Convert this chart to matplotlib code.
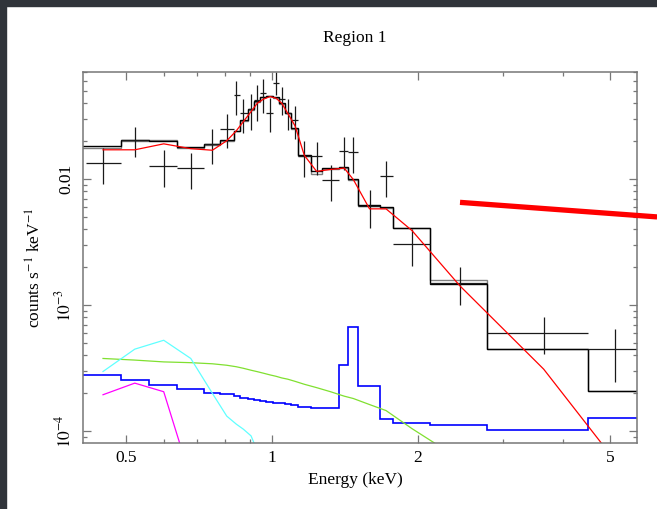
import numpy as np
import matplotlib
matplotlib.use("Agg")
import matplotlib.pyplot as plt
from matplotlib.patches import Rectangle
from matplotlib.ticker import LogLocator, NullFormatter

plt.rcParams['font.family'] = ['Liberation Serif', 'DejaVu Serif']
plt.rcParams['mathtext.fontset'] = 'stix'

# energy bins (keV) of the spectrum
bin_lo = [0.414, 0.488, 0.558, 0.6385, 0.725, 0.781, 0.835, 0.860, 0.892, 0.919,
          0.946, 0.973, 1.008, 1.035, 1.065, 1.096, 1.135, 1.203, 1.268, 1.379,
          1.439, 1.509, 1.673, 1.776, 2.122, 2.778, 4.503]
bin_hi = bin_lo[1:] + [6.0]
energy = [0.4485, 0.5215, 0.5985, 0.6806, 0.7542, 0.8075, 0.845, 0.8738, 0.9064, 0.9339,
          0.9609, 0.992, 1.0207, 1.0487, 1.079, 1.117, 1.1676, 1.2376, 1.3224, 1.4112,
          1.4738, 1.5917, 1.7218, 1.948, 2.4468, 3.642, 5.105]

# data (counts s^-1 keV^-1) and 1-sigma errors
rate = [0.01338, 0.02033, 0.01274, 0.01222, 0.01901, 0.02512, 0.04613, 0.03324, 0.03575, 0.04235,
        0.0481, 0.03361, 0.058, 0.04289, 0.03361, 0.02943, 0.01528, 0.01528, 0.00975, 0.01674,
        0.01629, 0.00612, 0.01048, 0.00305, 0.001506, 0.000606, 0.000447]
rate_err = [0.00433, 0.00548, 0.00415, 0.00386, 0.00574, 0.00737, 0.01397, 0.00989, 0.0113, 0.01357,
            0.0145, 0.01017, 0.012, 0.01086, 0.00933, 0.00853, 0.00489, 0.00444, 0.00305, 0.00494,
            0.00508, 0.0020, 0.00334, 0.0010, 0.000494, 0.000198, 0.000203]

# folded model, two data groups
model_a = [0.0181, 0.0203, 0.0201, 0.0179, 0.0190, 0.0205, 0.0241, 0.0294, 0.0358, 0.0416,
           0.0450, 0.0456, 0.0445, 0.0399, 0.0336, 0.0253, 0.0156, 0.0116, 0.0122, 0.0124,
           0.0100, 0.0062, 0.0060, 0.0041, 0.00148, 0.000447, 0.000209]
model_b = [0.0177, 0.0200, 0.0203, 0.0176, 0.0187, 0.0201, 0.0238, 0.0290, 0.0352, 0.0410,
           0.0446, 0.0452, 0.0441, 0.0395, 0.0331, 0.0249, 0.0153, 0.0110, 0.0120, 0.0122,
           0.0098, 0.0061, 0.0059, 0.0041, 0.00157, 0.000447, 0.000209]
model_total = [0.01704, 0.01704, 0.0190, 0.0174, 0.0169, 0.0201, 0.0241, 0.0285, 0.0342, 0.0399,
               0.0429, 0.0450, 0.0437, 0.0399, 0.0332, 0.0264, 0.0154, 0.0115, 0.0119, 0.0122,
               0.0099, 0.0058, 0.0058, 0.0039, 0.00142, 0.000311, 0.000059]

# model components
comp_blue = [0.000279, 0.000254, 0.000234, 0.000216, 0.000203, 0.000196, 0.000189, 0.000184, 0.00018, 0.000177,
             0.000174, 0.00017, 0.000168, 0.000167, 0.000165, 0.000161, 0.000155, 0.000152, 0.000152, 0.000334,
             0.000676, 0.000227, 0.000125, 0.000117, 0.000112, 0.000102, 0.000128]
comp_green = [0.000378, 0.000367, 0.000355, 0.00035, 0.000343, 0.000334, 0.000325, 0.000316, 0.000305, 0.000297,
              0.000289, 0.00028, 0.000273, 0.000265, 0.000259, 0.000249, 0.000236, 0.000222, 0.000206, 0.00019,
              0.000182, 0.000163, 0.000146, 0.000105, 0.00006]
comp_cyan = [0.000298, 0.000448, 0.000527, 0.000378, 0.0002, 0.000132, 0.000114, 0.000104, 0.000092, 0.00007]
comp_magenta = [0.000195, 0.000241, 0.000206, 0.000042]

# hand-drawn red mark (start/end in keV, rate)
mark_e = [2.447, 6.243]
mark_r = [0.00653, 0.005006]

W, H = 657, 509
fig = plt.figure(figsize=(W / 100, H / 100), dpi=100)
ax = fig.add_axes([83 / W, 1 - 443 / H, 554 / W, 371 / H])

x = np.array(energy)
lo = np.array(bin_lo)
hi = np.array(bin_hi)
edges = [0.40] + bin_hi

ax.stairs(model_b, edges, color='#808080', lw=1.0)
ax.stairs(model_a, edges, color='black', lw=1.0)
ax.errorbar(x, rate, xerr=[x - lo, hi - x], yerr=rate_err, fmt='none',
            ecolor='#1a1a1a', elinewidth=0.9, capsize=0)
ax.plot(x, model_total, color='#ff0000', lw=0.9)

ax.stairs(comp_blue, edges, color='#0000ff', lw=1.2)
ax.plot(x[:len(comp_green)], comp_green, color='#80e030', lw=0.9)
ax.plot(x[:len(comp_cyan)], comp_cyan, color='#60ffff', lw=0.9)
ax.plot(x[:len(comp_magenta)], comp_magenta, color='#ff00ff', lw=0.9)

ax.plot(mark_e, mark_r, color='#ff0000', lw=3.8, solid_capstyle='butt', clip_on=False, zorder=5)

ax.set_xscale('log')
ax.set_yscale('log')
ax.set_xlim(0.4078, 5.675)
ax.set_ylim(8.08e-5, 0.0705)

ax.set_xticks([0.5, 1, 2, 5], ['0.5', '1', '2', '5'])
ax.set_xticks([0.6, 0.7, 0.8, 0.9, 3, 4], minor=True)
ax.xaxis.set_minor_formatter(NullFormatter())
ax.set_yticks([1e-4, 1e-3, 1e-2], ['$10^{-4}$', '$10^{-3}$', '0.01'])
ax.yaxis.set_minor_locator(LogLocator(base=10, subs=np.arange(2, 10)))
ax.yaxis.set_minor_formatter(NullFormatter())

ax.tick_params(which='both', direction='in', top=True, right=True, color='#777777',
               labelsize=12.5)
ax.tick_params(which='major', length=5.5, width=0.9)
ax.tick_params(which='minor', length=3, width=0.9)
ax.tick_params(axis='x', pad=5)
ax.tick_params(axis='y', pad=6)
for lab in ax.get_yticklabels():
    lab.set_rotation(90)
    lab.set_va('center')
for s in ax.spines.values():
    s.set_color('#777777')
    s.set_linewidth(1.1)

fig.text(355 / W, 1 - 38 / H, 'Region 1', ha='center', va='center', fontsize=12.5)
fig.text(355 / W, 1 - 480 / H, 'Energy (keV)', ha='center', va='center', fontsize=12.5)
fig.text(35 / W, 1 - 268 / H, 'counts s$^{-1}$ keV$^{-1}$', ha='center', va='center',
         rotation=90, fontsize=12.5)

# dark screenshot frame on the top and left edges
fig.patches.append(Rectangle((0, 0), 6 / W, 1, transform=fig.transFigure,
                             color='#30343a', zorder=10))
fig.patches.append(Rectangle((0, 1 - 6 / H), 1, 6 / H, transform=fig.transFigure,
                             color='#30343a', zorder=10))

fig.savefig('out.png', dpi=100)
